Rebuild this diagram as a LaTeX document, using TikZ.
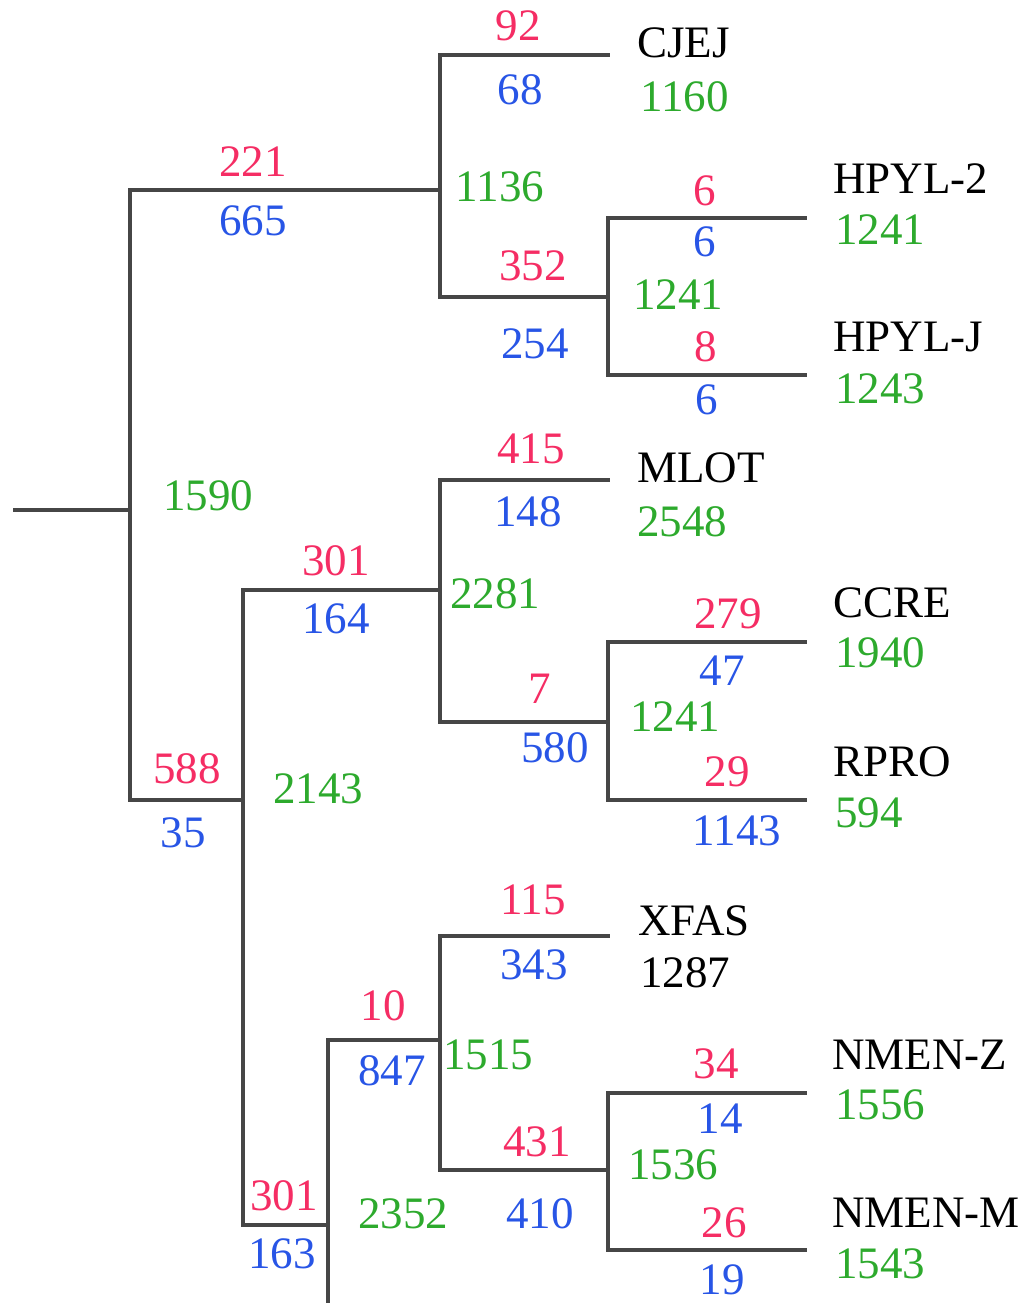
\documentclass[tikz,border=0pt]{standalone}
\usepackage{fontspec}
\setmainfont{Liberation Serif}
\definecolor{lred}{RGB}{245,45,100}
\definecolor{lblue}{RGB}{40,85,230}
\definecolor{lgreen}{RGB}{45,170,45}
\definecolor{edge}{RGB}{70,70,70}
\begin{document}
\begin{tikzpicture}[x=1pt,y=-1pt,
  branch/.style={draw=edge,line width=3.5pt,line cap=rect},
  lbl/.style={inner sep=0pt,anchor=base,font=\fontsize{45}{54}\selectfont},
  taxon/.style={inner sep=0pt,anchor=base west,font=\fontsize{45}{54}\selectfont,text=black},
  rnum/.style={lbl,text=lred},
  bnum/.style={lbl,text=lblue},
  gnum/.style={lbl,text=lgreen},
  gleaf/.style={taxon,text=lgreen}]
\useasboundingbox[fill=white] (0,0) rectangle (1032,1303);
% tree coordinates
\coordinate (root) at (15,510);
\coordinate (n0) at (130,510);
\coordinate (n0t) at (130,190);
\coordinate (n0b) at (130,800);
\coordinate (n1) at (440,190);
\coordinate (n1t) at (440,55);
\coordinate (n1b) at (440,297);
\coordinate (eCJEJ) at (608,55);
\coordinate (n2) at (608,297);
\coordinate (n2t) at (608,218);
\coordinate (n2b) at (608,375);
\coordinate (eHP2) at (805,218);
\coordinate (eHPJ) at (805,375);
\coordinate (n3) at (243,800);
\coordinate (n3t) at (243,590);
\coordinate (n3b) at (243,1225);
\coordinate (n4) at (440,590);
\coordinate (n4t) at (440,480);
\coordinate (n4b) at (440,722);
\coordinate (eMLOT) at (608,480);
\coordinate (n5) at (608,722);
\coordinate (n5t) at (608,642);
\coordinate (n5b) at (608,800);
\coordinate (eCCRE) at (805,642);
\coordinate (eRPRO) at (805,800);
\coordinate (n6) at (328,1225);
\coordinate (n6t) at (328,1040);
\coordinate (n6b) at (328,1303);
\coordinate (n7) at (440,1040);
\coordinate (n7t) at (440,936);
\coordinate (n7b) at (440,1170);
\coordinate (eXFAS) at (608,936);
\coordinate (n8) at (608,1170);
\coordinate (n8t) at (608,1093);
\coordinate (n8b) at (608,1250);
\coordinate (eNMZ) at (805,1093);
\coordinate (eNMM) at (805,1250);
% branches
\draw[branch] (root) -- (n0);
\draw[branch] (n0t) -- (n0b);
\draw[branch] (n0t) -- (n1);
\draw[branch] (n1t) -- (n1b);
\draw[branch] (n1t) -- (eCJEJ);
\draw[branch] (n1b) -- (n2);
\draw[branch] (n2t) -- (n2b);
\draw[branch] (n2t) -- (eHP2);
\draw[branch] (n2b) -- (eHPJ);
\draw[branch] (n0b) -- (n3);
\draw[branch] (n3t) -- (n3b);
\draw[branch] (n3t) -- (n4);
\draw[branch] (n4t) -- (n4b);
\draw[branch] (n4t) -- (eMLOT);
\draw[branch] (n4b) -- (n5);
\draw[branch] (n5t) -- (n5b);
\draw[branch] (n5t) -- (eCCRE);
\draw[branch] (n5b) -- (eRPRO);
\draw[branch] (n3b) -- (n6);
\draw[branch] (n6t) -- (n6b);
\draw[branch] (n6t) -- (n7);
\draw[branch] (n7t) -- (n7b);
\draw[branch] (n7t) -- (eXFAS);
\draw[branch] (n7b) -- (n8);
\draw[branch] (n8t) -- (n8b);
\draw[branch] (n8t) -- (eNMZ);
\draw[branch] (n8b) -- (eNMM);
% taxa
\node[taxon] (tCJEJ) at (637,58) {CJEJ};
\node[gleaf] (gCJEJ) at (640,112) {1160};
\node[taxon] (tHP2) at (833,193) {HPYL-2};
\node[gleaf] (gHP2) at (835,244) {1241};
\node[taxon] (tHPJ) at (833,351) {HPYL-J};
\node[gleaf] (gHPJ) at (835,403) {1243};
\node[taxon] (tMLOT) at (637,482) {MLOT};
\node[gleaf] (gMLOT) at (637,536) {2548};
\node[taxon] (tCCRE) at (833,617) {CCRE};
\node[gleaf] (gCCRE) at (835,667) {1940};
\node[taxon] (tRPRO) at (833,776) {RPRO};
\node[gleaf] (gRPRO) at (835,827) {594};
\node[taxon] (tXFAS) at (638,935) {XFAS};
\node[taxon] (kXFAS) at (640,987) {1287};
\node[taxon] (tNMZ) at (832,1069) {NMEN-Z};
\node[gleaf] (gNMZ) at (835,1119) {1556};
\node[taxon] (tNMM) at (832,1227) {NMEN-M};
\node[gleaf] (gNMM) at (835,1278) {1543};
% branch numbers
\node[rnum] (r92) at (518,41) {92};
\node[bnum] (b68) at (520,105) {68};
\node[rnum] (r221) at (253,176) {221};
\node[bnum] (b665) at (253,235) {665};
\node[gnum] (g1136) at (500,201) {1136};
\node[rnum] (r6) at (705,205) {6};
\node[bnum] (b6a) at (705,256) {6};
\node[rnum] (r352) at (533,280) {352};
\node[gnum] (g1241a) at (678,309) {1241};
\node[bnum] (b254) at (535,358) {254};
\node[rnum] (r8) at (706,361) {8};
\node[bnum] (b6b) at (707,414) {6};
\node[gnum] (g1590) at (208,510) {1590};
\node[rnum] (r415) at (531,463) {415};
\node[bnum] (b148) at (528,526) {148};
\node[rnum] (r301a) at (336,575) {301};
\node[bnum] (b164) at (336,633) {164};
\node[gnum] (g2281) at (495,608) {2281};
\node[rnum] (r279) at (728,628) {279};
\node[bnum] (b47) at (722,685) {47};
\node[gnum] (g1241b) at (675,731) {1241};
\node[rnum] (r7) at (540,703) {7};
\node[bnum] (b580) at (555,762) {580};
\node[rnum] (r29) at (727,786) {29};
\node[bnum] (b1143) at (737,845) {1143};
\node[rnum] (r588) at (187,783) {588};
\node[bnum] (b35) at (183,847) {35};
\node[gnum] (g2143) at (318,803) {2143};
\node[rnum] (r115) at (533,914) {115};
\node[bnum] (b343) at (534,979) {343};
\node[rnum] (r10) at (383,1020) {10};
\node[bnum] (b847) at (392,1085) {847};
\node[gnum] (g1515) at (488,1069) {1515};
\node[rnum] (r34) at (716,1078) {34};
\node[bnum] (b14) at (720,1133) {14};
\node[gnum] (g1536) at (673,1179) {1536};
\node[rnum] (r431) at (537,1156) {431};
\node[bnum] (b410) at (540,1228) {410};
\node[gnum] (g2352) at (403,1228) {2352};
\node[rnum] (r26) at (724,1237) {26};
\node[bnum] (b19) at (722,1294) {19};
\node[rnum] (r301b) at (284,1210) {301};
\node[bnum] (b163) at (282,1268) {163};
\end{tikzpicture}
\end{document}
